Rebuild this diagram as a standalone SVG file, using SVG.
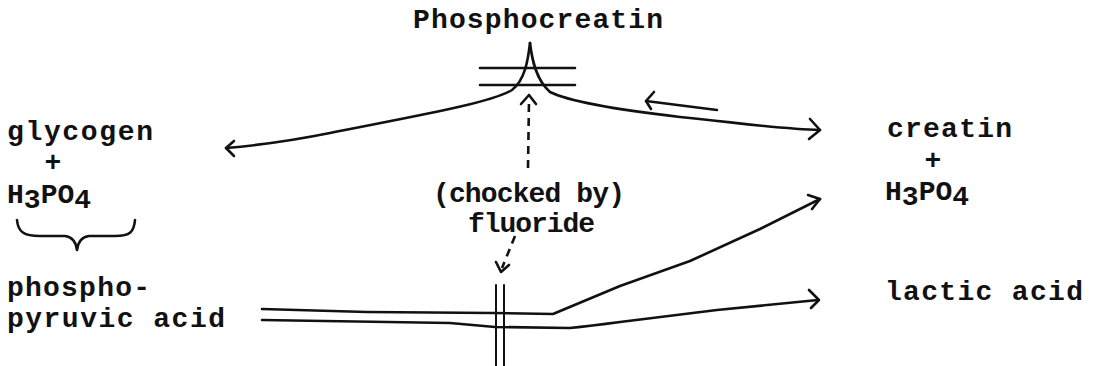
<svg xmlns="http://www.w3.org/2000/svg" width="1095" height="366" viewBox="0 0 1095 366">
<style>
  text { font-family: "Liberation Mono", "DejaVu Sans Mono", monospace; font-weight: bold; font-size: 28px; fill: #111; }
  .ln { fill: none; stroke: #111; stroke-width: 2.6; stroke-linecap: round; stroke-linejoin: round; }
  .thin { fill: none; stroke: #111; stroke-width: 2; stroke-linecap: round; }
  .dash { fill: none; stroke: #111; stroke-width: 2.6; stroke-dasharray: 8 6; }
</style>
<rect width="1095" height="366" fill="#fff"/>

<g id="phosphocreatin">
  <text x="413" y="28" textLength="250" lengthAdjust="spacing">Phosphocreatin</text>
</g>
<g id="glycogen">
  <text x="7" y="140" textLength="146" lengthAdjust="spacing">glycogen</text>
  <text x="53" y="171" text-anchor="middle">+</text>
  <text x="7" y="203">H<tspan dy="5">3</tspan><tspan dy="-5">PO</tspan><tspan dy="5">4</tspan></text>
  <path class="ln" d="M 17 220 C 18 232, 24 236, 40 236 L 65 236 C 73 237, 76 242, 77 250 C 78 242, 81 237, 89 236 L 115 236 C 130 236, 134 232, 135 220"/>
</g>
<g id="phosphopyruvic">
  <text x="7" y="296" textLength="143" lengthAdjust="spacing">phospho-</text>
  <text x="7" y="327" textLength="218" lengthAdjust="spacing">pyruvic acid</text>
</g>
<g id="fluoride">
  <text x="433" y="202" textLength="192" lengthAdjust="spacing">(chocked by)</text>
  <text x="468" y="232" textLength="127" lengthAdjust="spacing">fluoride</text>
</g>
<g id="creatin">
  <text x="887" y="137" textLength="125" lengthAdjust="spacing">creatin</text>
  <text x="933" y="169" text-anchor="middle">+</text>
  <text x="885" y="200">H<tspan dy="5">3</tspan><tspan dy="-5">PO</tspan><tspan dy="5">4</tspan></text>
</g>
<g id="lactic">
  <text x="885" y="300" textLength="198" lengthAdjust="spacing">lactic acid</text>
</g>

<g id="connectors">
  <path class="ln" d="M 480 68 H 575 M 480 85 H 575"/>
  <path class="ln" d="M 530 43 C 528 60, 525 80, 512 90 C 490 103, 420 115, 330 133 C 290 141, 250 146, 226 148"/>
  <path class="ln" d="M 234 141 L 226 148 L 234 156"/>
  <path class="ln" d="M 530 43 C 532 60, 536 80, 550 92 C 570 102, 620 110, 680 117 C 740 123, 780 129, 820 130"/>
  <path class="ln" d="M 810 119 L 820 130 L 809 139"/>
  <path class="ln" d="M 717 110 L 646 101"/>
  <path class="ln" d="M 654 92 L 646 101 L 651 109"/>
  <path class="dash" d="M 528 168 L 529 100"/>
  <path class="ln" d="M 521 104 L 529 95 L 536 104"/>
  <path class="dash" d="M 515 236 L 502 268"/>
  <path class="ln" d="M 496 262 L 501 272 L 509 265"/>
  <path class="thin" d="M 496 285 V 366 M 504 285 V 366"/>
  <path class="ln" d="M 262 309 L 367 312 L 493 313 L 553 314 L 620 286 L 690 261 L 760 229 L 820 199"/>
  <path class="ln" d="M 808 195 L 820 199 L 812 209"/>
  <path class="ln" d="M 262 320 L 450 323 L 495 327 L 570 328 Q 590 326 620 322 L 717 310 L 818 300"/>
  <path class="ln" d="M 809 290 L 819 300 L 811 308"/>
</g>
</svg>
